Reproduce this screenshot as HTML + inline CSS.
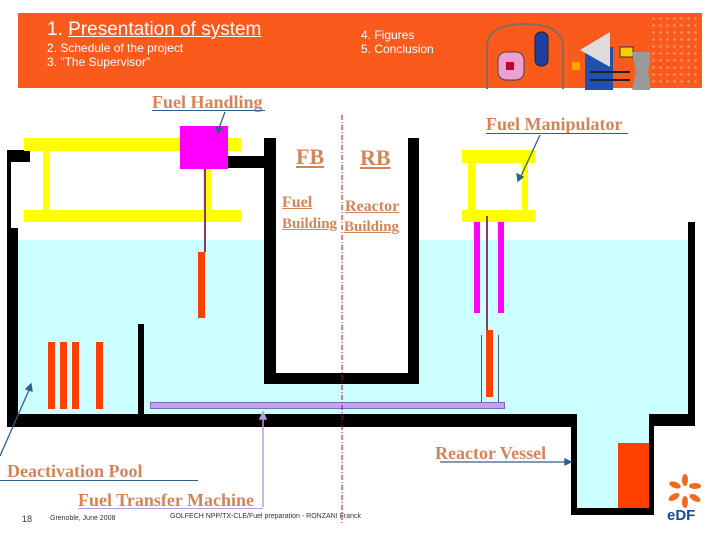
<!DOCTYPE html>
<html><head><meta charset="utf-8"><style>
*{margin:0;padding:0;box-sizing:border-box}
body{width:720px;height:540px;position:relative;background:#fff;overflow:hidden;font-family:"Liberation Sans",sans-serif}
.a{position:absolute}
.k{position:absolute;background:#000}
.y{position:absolute;background:#ffff00}
.o{position:absolute;background:#ff4000}
.c{position:absolute;background:#ccffff}
.t{position:absolute;font-family:"Liberation Serif",serif;font-weight:bold;color:#d4845a;font-size:18px;white-space:nowrap;line-height:1}
.w{position:absolute;color:#fff;white-space:nowrap;line-height:1}
</style></head><body>
<!-- header -->
<div class="a" style="left:18px;top:13px;width:684px;height:75px;background:#fa5a1c"></div>
<div class="a" style="left:650px;top:15px;width:50px;height:70px;background-image:radial-gradient(#ff9a70 1px,transparent 1.5px);background-size:7px 7px"></div>
<div class="w" style="left:47px;top:20px;font-size:19px">1. <span style="text-decoration:underline">Presentation of system</span></div>
<div class="w" style="left:47px;top:42px;font-size:12px">2. Schedule of the project</div>
<div class="w" style="left:47px;top:56px;font-size:12px">3. "The Supervisor"</div>
<div class="w" style="left:361px;top:29px;font-size:12px">4. Figures</div>
<div class="w" style="left:361px;top:43px;font-size:12px">5. Conclusion</div>
<svg class="a" style="left:480px;top:12px" width="170" height="78">
<path d="M7 77 V35 Q7 12 45 12 Q83 12 83 35 V77" fill="none" stroke="#8a6a5a" stroke-width="2"/>
<rect x="18" y="40" width="26" height="28" rx="8" fill="#f0a0d0" stroke="#444"/>
<rect x="26" y="50" width="8" height="8" fill="#c00030"/>
<rect x="55" y="20" width="13" height="34" rx="6" fill="#2040a0" stroke="#222"/>
<rect x="105" y="35" width="28" height="45" fill="#2050b0"/>
<polygon points="100,38 130,20 130,55" fill="#ddd"/>
<rect x="140" y="35" width="13" height="10" fill="#ffcc00" stroke="#333"/>
<rect x="92" y="50" width="8" height="8" fill="#ffaa00"/>
<path d="M110 60 H150 M110 68 H150" stroke="#222" stroke-width="2"/>
<polygon points="152,40 172,40 168,60 172,78 152,78 156,60" fill="#999"/>
</svg>
<!-- water -->
<div class="c" style="left:18px;top:240px;width:670px;height:174px"></div>
<div class="c" style="left:576px;top:413px;width:74px;height:95px"></div>
<div class="a" style="left:276px;top:230px;width:132px;height:143px;background:#fff"></div>
<!-- left structure -->
<div class="k" style="left:7px;top:150px;width:23px;height:12px"></div>
<div class="k" style="left:7px;top:162px;width:4px;height:68px"></div>
<div class="k" style="left:7px;top:228px;width:11px;height:199px"></div>
<div class="k" style="left:138px;top:324px;width:6px;height:90px"></div>
<div class="k" style="left:7px;top:414px;width:569px;height:13px"></div>
<!-- vessel -->
<div class="k" style="left:571px;top:414px;width:6px;height:101px"></div>
<div class="k" style="left:571px;top:508px;width:83px;height:7px"></div>
<div class="k" style="left:649px;top:414px;width:5px;height:101px"></div>
<div class="k" style="left:649px;top:414px;width:46px;height:12px"></div>
<div class="k" style="left:688px;top:222px;width:7px;height:204px"></div>
<div class="o" style="left:618px;top:443px;width:31px;height:65px"></div>
<!-- central U -->
<div class="k" style="left:264px;top:138px;width:12px;height:246px"></div>
<div class="k" style="left:408px;top:138px;width:11px;height:246px"></div>
<div class="k" style="left:264px;top:373px;width:155px;height:11px"></div>
<!-- fuel handling machine -->
<div class="y" style="left:24px;top:138px;width:217px;height:13px"></div>
<div class="y" style="left:43px;top:151px;width:6px;height:59px"></div>
<div class="y" style="left:203px;top:151px;width:8px;height:59px"></div>
<div class="y" style="left:24px;top:210px;width:217px;height:12px"></div>
<div class="k" style="left:228px;top:156px;width:37px;height:12px"></div>
<div class="a" style="left:180px;top:126px;width:48px;height:43px;background:#ff00ff"></div>
<div class="a" style="left:204px;top:169px;width:2px;height:83px;background:#8b3a5a"></div>
<div class="o" style="left:198px;top:252px;width:7px;height:66px"></div>
<!-- pool rods -->
<div class="o" style="left:48px;top:342px;width:7px;height:67px"></div>
<div class="o" style="left:60px;top:342px;width:7px;height:67px"></div>
<div class="o" style="left:72px;top:342px;width:7px;height:67px"></div>
<div class="o" style="left:96px;top:342px;width:7px;height:67px"></div>
<!-- manipulator -->
<div class="y" style="left:462px;top:150px;width:73px;height:13px"></div>
<div class="y" style="left:468px;top:163px;width:7px;height:47px"></div>
<div class="y" style="left:522px;top:163px;width:6px;height:47px"></div>
<div class="y" style="left:462px;top:210px;width:73px;height:12px"></div>
<div class="a" style="left:474px;top:222px;width:6px;height:91px;background:#ff00ff"></div>
<div class="a" style="left:498px;top:222px;width:6px;height:91px;background:#ff00ff"></div>
<div class="a" style="left:486px;top:216px;width:2px;height:114px;background:#8b3a5a"></div>
<div class="o" style="left:486px;top:330px;width:7px;height:67px"></div>
<div class="a" style="left:481px;top:335px;width:1px;height:68px;background:#557"></div>
<div class="a" style="left:498px;top:335px;width:1px;height:68px;background:#557"></div>
<!-- transfer bar -->
<div class="a" style="left:150px;top:402px;width:355px;height:7px;background:#c8a0f0;border:1px solid #7070c0"></div>
<!-- center line & arrows -->
<svg class="a" style="left:0;top:0" width="720" height="540">
<line x1="342" y1="115" x2="342" y2="525" stroke="#d00" stroke-width="1" stroke-dasharray="5,2,1,2"/>
<g stroke="#2f5f8a" stroke-width="1.3" fill="#2f5f8a">
<line x1="225" y1="112" x2="219" y2="128"/><polygon points="216,127 222,128 218,133"/>
<line x1="540" y1="135" x2="521" y2="176"/><polygon points="517,174 523,177 518,181"/>
<line x1="0" y1="456" x2="29" y2="390"/><polygon points="26,389 32,391 31,384"/>
<line x1="440" y1="462" x2="566" y2="462"/><polygon points="565,459 571,462 565,465"/>
</g>
<g stroke="#b89ae0" stroke-width="1.5" fill="#b89ae0">
<line x1="263" y1="507" x2="263" y2="418"/><polygon points="260,419 266,419 263,412"/>
</g>
</svg>
<!-- labels -->
<div class="t" style="left:152px;top:93px">Fuel Handling</div>
<div class="a" style="left:152px;top:110px;width:113px;height:1px;background:#2f5f8a"></div>
<div class="t" style="left:486px;top:115px">Fuel Manipulator</div>
<div class="a" style="left:486px;top:133px;width:142px;height:1px;background:#2f5f8a"></div>
<div class="t" style="left:296px;top:146px;font-size:22px;text-decoration:underline">FB</div>
<div class="t" style="left:360px;top:147px;font-size:22px;text-decoration:underline">RB</div>
<div class="t" style="left:282px;top:195px;font-size:16px;text-decoration:underline">Fuel</div>
<div class="t" style="left:282px;top:217px;font-size:15px;text-decoration:underline">Building</div>
<div class="t" style="left:345px;top:199px;font-size:16px;text-decoration:underline">Reactor</div>
<div class="t" style="left:344px;top:220px;font-size:15px;text-decoration:underline">Building</div>
<div class="t" style="left:435px;top:444px">Reactor Vessel</div>
<div class="t" style="left:7px;top:462px">Deactivation Pool</div>
<div class="a" style="left:0;top:480px;width:198px;height:1px;background:#2f5f8a"></div>
<div class="t" style="left:78px;top:491px">Fuel Transfer Machine</div>
<div class="a" style="left:78px;top:508px;width:185px;height:1px;background:#b89ae0"></div>
<!-- footer -->
<div class="a" style="left:22px;top:514px;font-size:9px;color:#333">18</div>
<div class="a" style="left:50px;top:515px;font-size:7px;color:#333">Grenoble, June 2008</div>
<div class="a" style="left:170px;top:513px;font-size:7px;color:#333">GOLFECH NPP/TX-CLE/Fuel preparation - RONZANI Franck</div>
<!-- EDF logo -->
<svg class="a" style="left:665px;top:472px" width="40" height="50">
<g fill="#f26a1b">
<ellipse cx="20" cy="8" rx="3" ry="6"/><ellipse cx="30" cy="14" rx="6" ry="3"/><ellipse cx="30" cy="26" rx="6" ry="3" transform="rotate(30 30 26)"/>
<ellipse cx="20" cy="30" rx="3" ry="6"/><ellipse cx="9" cy="25" rx="6" ry="3" transform="rotate(-30 9 25)"/><ellipse cx="10" cy="13" rx="6" ry="3" transform="rotate(20 10 13)"/>
</g>
<text x="2" y="48" font-family="Liberation Sans" font-weight="bold" font-size="15" fill="#1a4b9b">eDF</text>
</svg>
</body></html>
